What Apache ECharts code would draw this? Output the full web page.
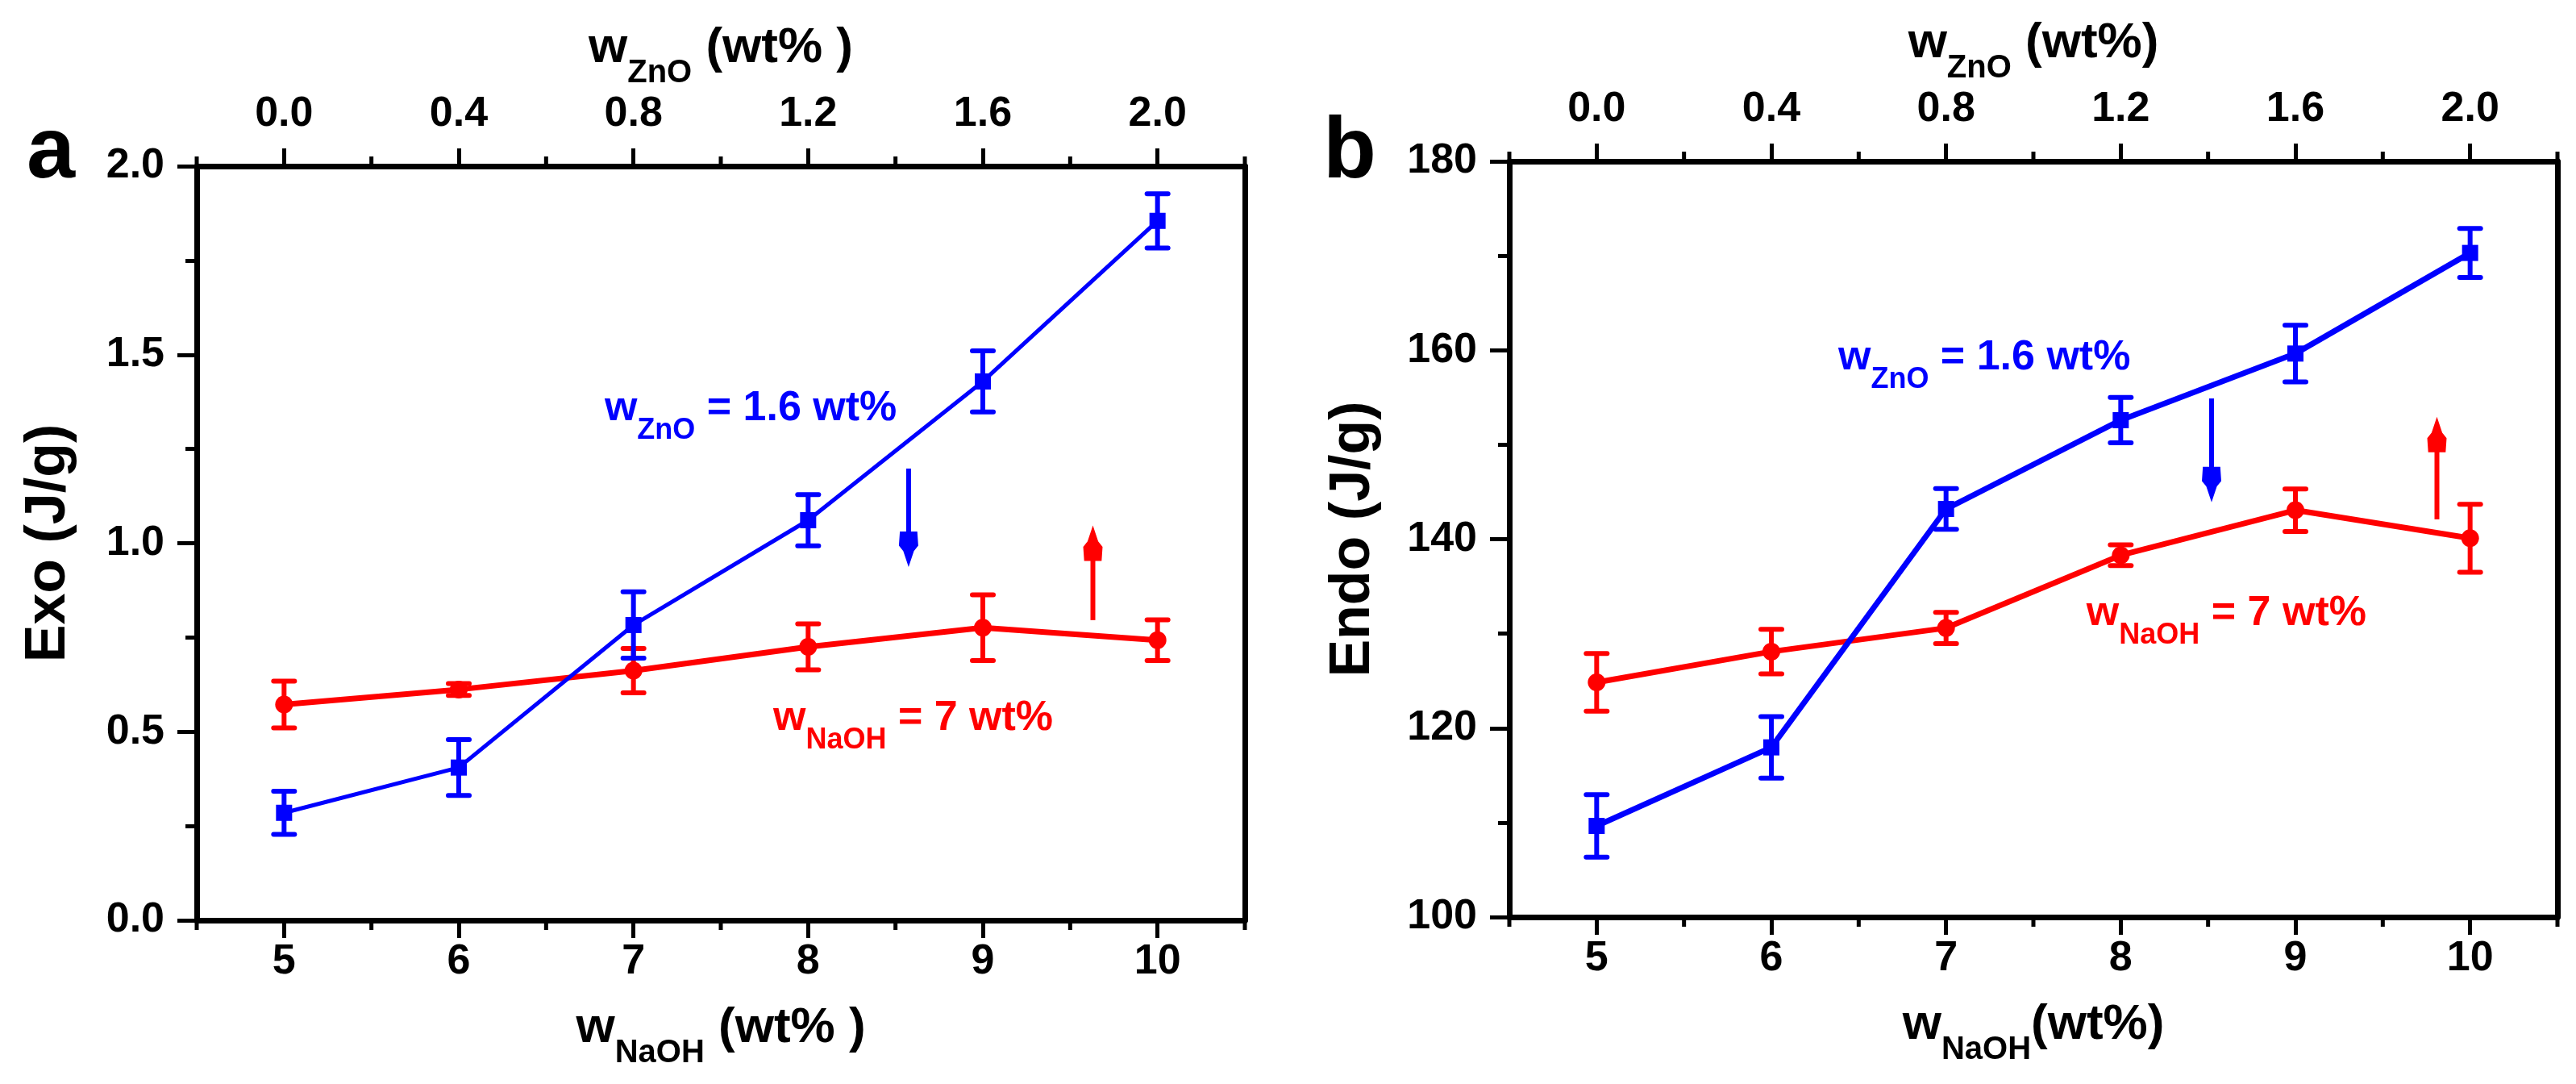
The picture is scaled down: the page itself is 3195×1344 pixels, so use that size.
<!DOCTYPE html>
<html>
<head>
<meta charset="utf-8">
<script src="https://cdn.jsdelivr.net/npm/echarts@6/dist/echarts.min.js"></script>
<style>html,body{margin:0;padding:0;background:#fff}#c{width:3195px;height:1344px}</style>
</head>
<body>
<div id="c"></div>
<script>
// ---------- data ----------
const naoh = [5, 6, 7, 8, 9, 10];                 // bottom axis, w_NaOH (wt%)
const zno = [0.0, 0.4, 0.8, 1.2, 1.6, 2.0];       // top axis, w_ZnO (wt%)
const naohTicks = [5, 6, 7, 8, 9, 10];
const naohMinor = [4.5, 5.5, 6.5, 7.5, 8.5, 9.5, 10.5];
const znoTicks = [0.0, 0.4, 0.8, 1.2, 1.6, 2.0];
const znoMinor = [-0.2, 0.2, 0.6, 1.0, 1.4, 1.8, 2.2];

// panel a: Exo (J/g)
const exoBlue = [0.285, 0.405, 0.783, 1.061, 1.429, 1.855];   // w_ZnO = 1.6 wt%, vs NaOH
const exoBlueErr = [0.057, 0.074, 0.088, 0.068, 0.081, 0.072];
const exoRed = [0.572, 0.612, 0.662, 0.725, 0.776, 0.743];    // w_NaOH = 7 wt%, vs ZnO
const exoRedErr = [0.062, 0.016, 0.059, 0.061, 0.087, 0.054];

// panel b: Endo (J/g)
const endoBlue = [109.65, 117.96, 143.2, 152.6, 159.65, 170.3];
const endoBlueErr = [3.3, 3.25, 2.15, 2.4, 3.0, 2.6];
const endoRed = [124.85, 128.1, 130.6, 138.3, 143.07, 140.1];
const endoRedErr = [3.05, 2.35, 1.65, 1.1, 2.25, 3.6];

// arrows: [x, from y, to y]
const arrowBlueA = [8.575, 1.198, 0.937];   // x in NaOH units
const arrowRedA = [1.852, 0.796, 1.047];    // x in ZnO units
const arrowBlueB = [8.52, 154.9, 143.9];    // x in NaOH units
const arrowRedB = [1.924, 142.1, 152.95];   // x in ZnO units

// annotation anchors [x (NaOH units), y]
const annoBlueA = [6.835, 1.356];
const annoRedA = [7.80, 0.535];
const annoBlueB = [6.383, 159.18];
const annoRedB = [7.804, 132.1];

// ---------- styling ----------
const FF = '"Liberation Sans", Arial, Helvetica, sans-serif';
const BLUE = '#0000ff', RED = '#ff0000';

function titleRich() {
  return {
    m: {fontSize: 62, fontWeight: 'bold', fontFamily: FF, color: '#000', lineHeight: 66},
    s: {fontSize: 40, fontWeight: 'bold', fontFamily: FF, color: '#000', lineHeight: 40, padding: [62, 0, 0, 0]}
  };
}
function annoRich(col) {
  return {
    m: {fontSize: 52, fontWeight: 'bold', fontFamily: FF, fill: col, color: col, lineHeight: 56},
    s: {fontSize: 36, fontWeight: 'bold', fontFamily: FF, fill: col, color: col, lineHeight: 36, padding: [54, 0, 0, 0]}
  };
}
const labelStyle = {color: '#000', fontSize: 52, fontWeight: 'bold', fontFamily: FF};

function xAxesFor(g, nameB, gapB, nameT, gapT) {
  return [
    {
      gridIndex: g, type: 'value', position: 'bottom', min: 4.5, max: 10.5,
      axisLine: {show: true, onZero: false, lineStyle: {color: '#000', width: 7}},
      axisTick: {show: true, customValues: naohTicks, length: 22, lineStyle: {color: '#000', width: 5}},
      axisLabel: Object.assign({show: true, customValues: naohTicks, margin: 26, formatter: v => String(v)}, labelStyle),
      splitLine: {show: false},
      name: nameB, nameLocation: 'middle', nameGap: gapB, nameTextStyle: {rich: titleRich()}
    },
    {
      gridIndex: g, type: 'value', position: 'top', min: -0.2, max: 2.2,
      axisLine: {show: true, onZero: false, lineStyle: {color: '#000', width: 7}},
      axisTick: {show: true, customValues: znoTicks, length: 22, lineStyle: {color: '#000', width: 5}},
      axisLabel: Object.assign({show: true, customValues: znoTicks, margin: 38, formatter: v => v.toFixed(1)}, labelStyle),
      splitLine: {show: false},
      name: nameT, nameLocation: 'middle', nameGap: gapT, nameTextStyle: {rich: titleRich()}
    }
  ];
}
function yAxesFor(g, min, max, interval, fmt, name, gap) {
  return [
    {
      gridIndex: g, type: 'value', position: 'left', min: min, max: max, interval: interval,
      axisLine: {show: true, onZero: false, lineStyle: {color: '#000', width: 7}},
      axisTick: {show: true, length: 24, lineStyle: {color: '#000', width: 5}},
      minorTick: {show: true, splitNumber: 2, length: 14, lineStyle: {color: '#000', width: 5}},
      axisLabel: Object.assign({show: true, margin: 40, formatter: fmt}, labelStyle),
      splitLine: {show: false}, minorSplitLine: {show: false},
      name: name, nameLocation: 'middle', nameGap: gap,
      nameTextStyle: {fontSize: 70, fontWeight: 'bold', fontFamily: FF, color: '#000'}
    },
    {
      gridIndex: g, type: 'value', position: 'right', min: min, max: max, interval: interval,
      axisLine: {show: true, onZero: false, lineStyle: {color: '#000', width: 7}},
      axisTick: {show: false}, axisLabel: {show: false}, splitLine: {show: false}
    }
  ];
}

// minor ticks on x axes drawn through the axis scale
function minorTickSeries(xi, yi, values, yEdge, dir) {
  return {
    type: 'custom', xAxisIndex: xi, yAxisIndex: yi, clip: false, silent: true, z: 5,
    data: values.map(v => [v]),
    renderItem(params, api) {
      const p = api.coord([api.value(0), yEdge]);
      return {type: 'line', shape: {x1: p[0], y1: p[1], x2: p[0], y2: p[1] + dir * 12},
        style: {stroke: '#000', lineWidth: 5}};
    }
  };
}
function errSeries(xi, yi, xs, ys, es, col, z) {
  return {
    type: 'custom', xAxisIndex: xi, yAxisIndex: yi, clip: false, silent: true, z: z,
    data: xs.map((x, i) => [x, ys[i], es[i]]),
    renderItem(params, api) {
      const x = api.value(0), y = api.value(1), e = api.value(2);
      const t = api.coord([x, y + e]), b = api.coord([x, y - e]);
      const hw = 13, st = {stroke: col, lineWidth: 6, lineCap: 'round'};
      return {type: 'group', children: [
        {type: 'line', shape: {x1: t[0], y1: t[1], x2: b[0], y2: b[1]}, style: {stroke: col, lineWidth: 6}},
        {type: 'line', shape: {x1: t[0] - hw, y1: t[1], x2: t[0] + hw, y2: t[1]}, style: st},
        {type: 'line', shape: {x1: b[0] - hw, y1: b[1], x2: b[0] + hw, y2: b[1]}, style: st}
      ]};
    }
  };
}
function lineSeries(xi, yi, xs, ys, col, symbol, size, width, z) {
  return {
    type: 'line', xAxisIndex: xi, yAxisIndex: yi, z: z, silent: true,
    data: xs.map((x, i) => [x, ys[i]]),
    symbol: symbol, symbolSize: size, showSymbol: true,
    itemStyle: {color: col, borderWidth: 0},
    lineStyle: {color: col, width: width}
  };
}
function arrowSeries(xi, yi, arr, col) {
  return {
    type: 'custom', xAxisIndex: xi, yAxisIndex: yi, clip: false, silent: true, z: 8,
    data: [arr],
    renderItem(params, api) {
      const p1 = api.coord([api.value(0), api.value(1)]);
      const p2 = api.coord([api.value(0), api.value(2)]);
      const dir = p2[1] > p1[1] ? 1 : -1;
      const hl = 44, hw = 12;
      return {type: 'group', children: [
        {type: 'line', shape: {x1: p1[0], y1: p1[1], x2: p2[0], y2: p2[1] - dir * hl * 0.6},
          style: {stroke: col, lineWidth: 6}},
        {type: 'polygon', shape: {points: [
          [p2[0], p2[1]],
          [p2[0] - hw * 0.55, p2[1] - dir * hl * 0.45],
          [p2[0] - hw, p2[1] - dir * hl * 0.6],
          [p2[0] - hw * 0.9, p2[1] - dir * hl],
          [p2[0] + hw * 0.9, p2[1] - dir * hl],
          [p2[0] + hw, p2[1] - dir * hl * 0.6],
          [p2[0] + hw * 0.55, p2[1] - dir * hl * 0.45]
        ]}, style: {fill: col}}
      ]};
    }
  };
}
function annoSeries(xi, yi, pos, text, col) {
  return {
    type: 'custom', xAxisIndex: xi, yAxisIndex: yi, clip: false, silent: true, z: 9,
    data: [pos],
    renderItem(params, api) {
      const p = api.coord([api.value(0), api.value(1)]);
      return {type: 'text', x: p[0], y: p[1],
        style: {text: text, rich: annoRich(col), align: 'left', verticalAlign: 'middle', fill: col}};
    }
  };
}

const option = {
  backgroundColor: '#ffffff',
  animation: false,
  title: [
    {text: 'a', left: 28, top: 131, textStyle: {fontSize: 108, fontWeight: 'bold', fontFamily: FF, color: '#000'}},
    {text: 'b', left: 1636, top: 131, textStyle: {fontSize: 108, fontWeight: 'bold', fontFamily: FF, color: '#000'}}
  ],
  grid: [
    {left: 244, top: 206, width: 1300, height: 935, outerBoundsMode: 'none', containLabel: false},
    {left: 1872, top: 200, width: 1300, height: 937, outerBoundsMode: 'none', containLabel: false}
  ],
  xAxis: [].concat(
    xAxesFor(0, '{m|w}{s|NaOH}{m| (wt% )}', 81, '{m|w}{s|ZnO}{m| (wt% )}', 91),
    xAxesFor(1, '{m|w}{s|NaOH}{m|(wt%)}', 90, '{m|w}{s|ZnO}{m| (wt%)}', 101)
  ),
  yAxis: [].concat(
    yAxesFor(0, 0, 2, 0.5, v => v.toFixed(1), 'Exo (J/g)', 148),
    yAxesFor(1, 100, 180, 20, v => String(v), 'Endo (J/g)', 158)
  ),
  series: [
    // panel a
    minorTickSeries(0, 0, naohMinor, 0, 1),
    minorTickSeries(1, 0, znoMinor, 2, -1),
    errSeries(1, 0, zno, exoRed, exoRedErr, RED, 2),
    lineSeries(1, 0, zno, exoRed, RED, 'circle', 22, 7, 3),
    errSeries(0, 0, naoh, exoBlue, exoBlueErr, BLUE, 4),
    lineSeries(0, 0, naoh, exoBlue, BLUE, 'rect', 20, 5, 5),
    arrowSeries(0, 0, arrowBlueA, BLUE),
    arrowSeries(1, 0, arrowRedA, RED),
    annoSeries(0, 0, annoBlueA, '{m|w}{s|ZnO}{m| = 1.6 wt%}', BLUE),
    annoSeries(0, 0, annoRedA, '{m|w}{s|NaOH}{m| = 7 wt%}', RED),
    // panel b
    minorTickSeries(2, 2, naohMinor, 100, 1),
    minorTickSeries(3, 2, znoMinor, 180, -1),
    errSeries(3, 2, zno, endoRed, endoRedErr, RED, 2),
    lineSeries(3, 2, zno, endoRed, RED, 'circle', 22, 7, 3),
    errSeries(2, 2, naoh, endoBlue, endoBlueErr, BLUE, 4),
    lineSeries(2, 2, naoh, endoBlue, BLUE, 'rect', 20, 7, 5),
    arrowSeries(2, 2, arrowBlueB, BLUE),
    arrowSeries(3, 2, arrowRedB, RED),
    annoSeries(2, 2, annoBlueB, '{m|w}{s|ZnO}{m| = 1.6 wt%}', BLUE),
    annoSeries(2, 2, annoRedB, '{m|w}{s|NaOH}{m| = 7 wt%}', RED)
  ]
};

const chart = echarts.init(document.getElementById('c'), null, {renderer: 'canvas'});
chart.setOption(option);
</script>
</body>
</html>
